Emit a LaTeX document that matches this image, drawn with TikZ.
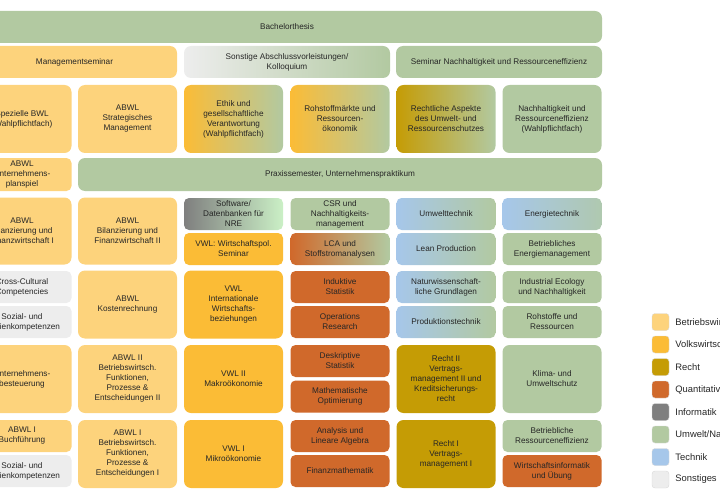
\documentclass[tikz,border=0pt]{standalone}
\usepackage{fontspec}
\setmainfont{Liberation Sans}
\usetikzlibrary{positioning}
\definecolor{bwl}{HTML}{FDD37C}
\definecolor{vwl}{HTML}{FBBC36}
\definecolor{recht}{HTML}{C59C05}
\definecolor{quant}{HTML}{D0692B}
\definecolor{info}{HTML}{7F7F7F}
\definecolor{umwelt}{HTML}{B2C9A1}
\definecolor{technik}{HTML}{A6C7EA}
\definecolor{sonst}{HTML}{EDEDED}
\tikzset{
  box/.style = {rounded corners = 7pt, inner sep = 1pt, align = center, minimum width = 99pt, font = \fontsize{8.2}{10}\selectfont, text = black!85},
  big/.style = {box, minimum height = 68pt},
  half/.style = {box, minimum height = 32pt, rounded corners = 5pt},
  legbox/.style = {draw = black!15, rounded corners = 3pt, minimum width = 17pt, minimum height = 17pt, inner sep = 0},
}
\begin{document}
\begin{tikzpicture}[x = 1pt, y = -1pt]
	\useasboundingbox (0, 0) rectangle (720, 500);
	\clip (0, 0) rectangle (720, 500);
	% top rows
	\node at (287, 27) [box, fill = umwelt, minimum width = 630pt, minimum height = 32pt] (thesis) {Bachelorthesis};
	\node at (74.5, 62) [box, fill = bwl, minimum width = 205pt, minimum height = 32pt] (mseminar) {Managementseminar};
	\node at (287, 62) [box, left color = sonst, right color = umwelt, minimum width = 206pt, minimum height = 32pt] (abschluss) {Sonstige Abschlussvorleistungen/\\Kolloquium};
	\node at (499, 62) [box, fill = umwelt, minimum width = 206pt, minimum height = 32pt] (nseminar) {Seminar Nachhaltigkeit und Ressourceneffizienz};
	% row 3
	\node at (22, 119) [big, fill = bwl] (spezbwl) {Spezielle BWL\\(Wahlpflichtfach)};
	\node at (127.5, 119) [big, fill = bwl] (strat) {ABWL\\Strategisches\\Management};
	\node at (233.5, 119) [big, left color = vwl, right color = umwelt] (ethik) {Ethik und\\gesellschaftliche\\Verantwortung\\(Wahlpflichtfach)};
	\node at (340, 119) [big, left color = vwl, right color = umwelt] (rohmarkt) {Rohstoffmärkte und\\Ressourcen-\\ökonomik};
	\node at (446, 119) [big, left color = recht, right color = umwelt] (rechtasp) {Rechtliche Aspekte\\des Umwelt- und\\Ressourcenschutzes};
	\node at (552, 119) [big, fill = umwelt] (nachhwpf) {Nachhaltigkeit und\\Ressourceneffizienz\\(Wahlpflichtfach)};
	% praxis
	\node at (22, 174.5) [half, fill = bwl, minimum height = 33pt] (planspiel) {ABWL\\Unternehmens-\\planspiel};
	\node at (340, 174.5) [box, fill = umwelt, minimum width = 524pt, minimum height = 33pt] (praxis) {Praxissemester, Unternehmenspraktikum};
	% row 5
	\node at (22, 231) [big, fill = bwl, minimum height = 67pt] (bilanz1) {ABWL\\Bilanzierung und\\Finanzwirtschaft I};
	\node at (127.5, 231) [big, fill = bwl, minimum height = 67pt] (bilanz2) {ABWL\\Bilanzierung und\\Finanzwirtschaft II};
	\node at (233.5, 214) [half, left color = info, right color = umwelt!70!green!40] (software) {Software/\\Datenbanken für\\NRE};
	\node at (233.5, 249) [half, fill = vwl] (wipol) {VWL: Wirtschaftspol.\\Seminar};
	\node at (340, 214) [half, fill = umwelt] (csr) {CSR und\\Nachhaltigkeits-\\management};
	\node at (340, 249) [half, left color = quant, right color = umwelt] (lca) {LCA und\\Stoffstromanalysen};
	\node at (446, 214) [half, left color = technik, right color = umwelt] (umwtech) {Umwelttechnik};
	\node at (446, 249) [half, left color = technik, right color = umwelt] (lean) {Lean Production};
	\node at (552, 214) [half, left color = technik, right color = umwelt!80!technik] (energie) {Energietechnik};
	\node at (552, 249) [half, fill = umwelt] (emanage) {Betriebliches\\Energiemanagement};
	% row 6
	\node at (22, 287) [half, fill = sonst] (crosscult) {Cross-Cultural\\Competencies};
	\node at (22, 322) [half, fill = sonst] (sozial1) {Sozial- und\\Medienkompetenzen};
	\node at (127.5, 304.5) [big, fill = bwl] (kosten) {ABWL\\Kostenrechnung};
	\node at (233.5, 304.5) [big, fill = vwl] (intwirt) {VWL\\Internationale\\Wirtschafts-\\beziehungen};
	\node at (340, 287) [half, fill = quant] (induktiv) {Induktive\\Statistik};
	\node at (340, 322) [half, fill = quant] (opres) {Operations\\Research};
	\node at (446, 287) [half, left color = technik, right color = umwelt] (natwiss) {Naturwissenschaft-\\liche Grundlagen};
	\node at (446, 322) [half, left color = technik, right color = umwelt] (prodtech) {Produktionstechnik};
	\node at (552, 287) [half, fill = umwelt] (indeco) {Industrial Ecology\\und Nachhaltigkeit};
	\node at (552, 322) [half, fill = umwelt] (rohstoffe) {Rohstoffe und\\Ressourcen};
	% row 7
	\node at (22, 379) [big, fill = bwl] (steuer) {Unternehmens-\\besteuerung};
	\node at (127.5, 379) [big, fill = bwl] (abwl2) {ABWL II\\Betriebswirtsch.\\Funktionen,\\Prozesse \&\\Entscheidungen II};
	\node at (233.5, 379) [big, fill = vwl] (makro) {VWL II\\Makroökonomie};
	\node at (340, 361) [half, fill = quant] (deskriptiv) {Deskriptive\\Statistik};
	\node at (340, 396.5) [half, fill = quant] (mathopt) {Mathematische\\Optimierung};
	\node at (446, 379) [big, fill = recht] (recht2) {Recht II\\Vertrags-\\management II und\\Kreditsicherungs-\\recht};
	\node at (552, 379) [big, fill = umwelt] (klima) {Klima- und\\Umweltschutz};
	% row 8
	\node at (22, 436) [half, fill = bwl] (buchf) {ABWL I\\Buchführung};
	\node at (22, 471) [half, fill = sonst] (sozial2) {Sozial- und\\Medienkompetenzen};
	\node at (127.5, 454) [big, fill = bwl] (abwl1) {ABWL I\\Betriebswirtsch.\\Funktionen,\\Prozesse \&\\Entscheidungen I};
	\node at (233.5, 454) [big, fill = vwl] (mikro) {VWL I\\Mikroökonomie};
	\node at (340, 436) [half, fill = quant] (analysis) {Analysis und\\Lineare Algebra};
	\node at (340, 471) [half, fill = quant] (finmath) {Finanzmathematik};
	\node at (446, 454) [big, fill = recht] (recht1) {Recht I\\Vertrags-\\management I};
	\node at (552, 436) [half, fill = umwelt] (reseff) {Betriebliche\\Ressourceneffizienz};
	\node at (552, 471) [half, fill = quant] (wiinfo) {Wirtschaftsinformatik\\und Übung};
	% legend
	\foreach \col/\txt [count = \i] in {bwl/Betriebswirtschaft, vwl/Volkswirtschaft, recht/Recht, quant/Quantitative Methoden, info/Informatik, umwelt/{Umwelt/Naturwissenschaft}, technik/Technik, sonst/Sonstiges} {
		\node at (660.5, 299.5 + 22.5*\i) [legbox, fill = \col] (leg\i) {};
		\node [right = 6pt of leg\i, inner sep = 0, font = \fontsize{9.4}{11}\selectfont, text = black!85] (legtext\i) {\txt};
	}
\end{tikzpicture}
\end{document}
